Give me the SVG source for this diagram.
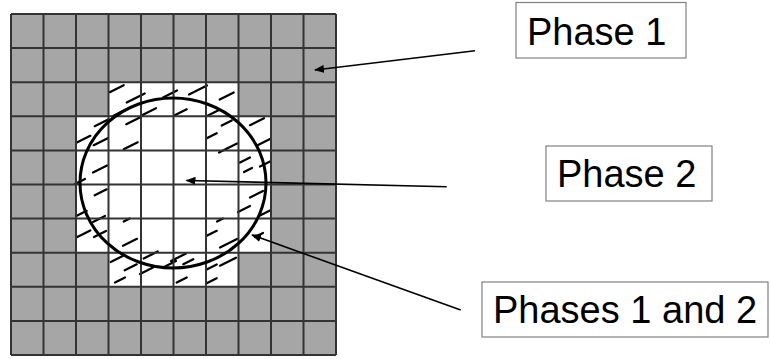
<svg xmlns="http://www.w3.org/2000/svg" width="770" height="359" viewBox="0 0 770 359">
<style>
.cell{fill:#a6a6a6}
.white{fill:#ffffff}
.grid{stroke:#333;stroke-width:2;fill:none}
.hatch{stroke:#000;stroke-width:2.2;fill:none;stroke-linecap:round}
.circ{stroke:#000;stroke-width:3;fill:none}
.box{fill:#fff;stroke:#808080;stroke-width:1.2}
.lbl{font-family:"Liberation Sans",Arial,sans-serif;font-size:38px;fill:#000}
.conn{stroke:#000;stroke-width:1.6;fill:none}
</style>
<defs>
<marker id="ah" viewBox="0 0 10 8" refX="9" refY="4" markerWidth="10" markerHeight="8" markerUnits="userSpaceOnUse" orient="auto">
<path d="M0 0 L10 4 L0 8 Z" fill="#000"/>
</marker>
</defs>
<rect width="770" height="359" fill="#fff"/>
<g id="mesh">
<rect class="cell" x="11" y="14" width="325" height="341"/>
<path class="white" d="M108.5 82.2 H238.5 V116.3 H271 V252.7 H238.5 V286.8 H108.5 V252.7 H76 V116.3 H108.5 Z"/>
<path class="hatch" d="M109.7 92.2 l14 -7 M126.7 102.5 l18 -9 M163 97.5 l14 -7 M112 116.5 l14 -7 M94.7 126.2 l14 -7 M126.3 124.2 l14 -7 M142 115.2 l14 -7 M76.3 142.8 l14 -7 M93.7 145.2 l14 -7 M123.7 149.2 l14 -7 M93 172.5 l14 -7 M75 184 l10 -5 M189 94.5 l18 -9 M219.7 99.5 l14 -7 M174.7 115.3 l12 -6 M207 116 l12 -6 M250 125.2 l14 -7 M221.7 125.5 l10 -5 M206.7 138.2 l10 -5 M219 152.5 l18 -9 M258 145 l12 -6 M240 162.5 l10 -5 M260 166.5 l10 -5 M244 172 l8 -4 M94.7 195.3 l12 -6 M76.7 215.8 l10 -5 M93 222 l12 -6 M123.7 221.5 l6 -3 M76.3 237.5 l14 -7 M94 237 l12 -6 M123 245.8 l14 -7 M110.7 262 l12 -6 M124.7 270.3 l12 -6 M143.7 258.5 l14 -7 M164 267 l12 -6 M115 282.5 l10 -5 M140 274 l13 -6.5 M250 197.5 l13 -6.5 M238 212 l12 -6 M260 215.5 l10 -5 M217 221.5 l6 -3 M206.7 235.8 l10 -5 M220 247.5 l17 -8.5 M255 237 l8 -4 M171 261 l15 -7.5 M220 265.7 l16 -8 M206.7 269.5 l10 -5 M183.3 264.2 l10 -5 M176.7 282.5 l10 -5 M206.7 283.2 l10 -5"/>
<path class="grid" d="M11 14 V355 M43.5 14 V355 M76 14 V355 M108.5 14 V355 M141 14 V355 M173.5 14 V355 M206 14 V355 M238.5 14 V355 M271 14 V355 M303.5 14 V355 M336 14 V355 M11 14 H336 M11 48.1 H336 M11 82.2 H336 M11 116.3 H336 M11 150.4 H336 M11 184.5 H336 M11 218.6 H336 M11 252.7 H336 M11 286.8 H336 M11 320.9 H336 M11 355 H336"/>
<ellipse class="circ" cx="173" cy="183" rx="93" ry="85"/>
</g>
<g id="phase1">
<rect class="box" x="516" y="2.5" width="170" height="55.5"/>
<text class="lbl" x="527" y="45">Phase 1</text>
</g>
<g id="phase2">
<rect class="box" x="546" y="146" width="166" height="55"/>
<text class="lbl" x="557" y="187">Phase 2</text>
</g>
<g id="phases12">
<rect class="box" x="482" y="282" width="286" height="55"/>
<text class="lbl" x="493" y="323">Phases 1 and 2</text>
</g>
<g id="connectors">
<line class="conn" x1="475" y1="50.7" x2="315" y2="70" marker-end="url(#ah)"/>
<line class="conn" x1="446.7" y1="186.7" x2="186.5" y2="180.5" marker-end="url(#ah)"/>
<line class="conn" x1="460.7" y1="310" x2="252" y2="235" marker-end="url(#ah)"/>
</g>
</svg>
